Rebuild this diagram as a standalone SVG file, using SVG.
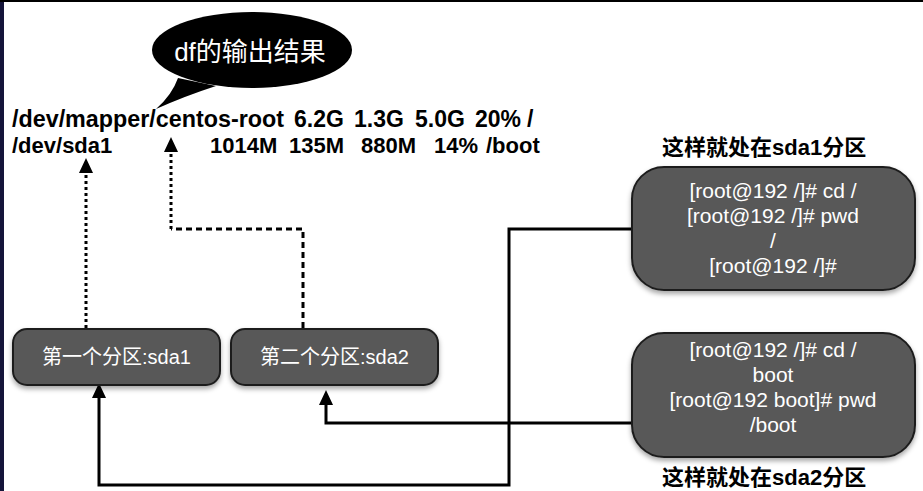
<svg xmlns="http://www.w3.org/2000/svg" width="923" height="491" viewBox="0 0 923 491">
<style>
text{font-family:"Liberation Sans","Noto Sans CJK SC",sans-serif}
.df{font-size:22px;font-weight:bold;fill:#000}
.df1{font-size:23px;font-weight:bold;fill:#000}
.cap{font-size:22px;font-weight:bold;fill:#000}
.lbl{font-size:20px;fill:#fff;text-anchor:middle}
.cmd{font-size:21px;fill:#fff;text-anchor:middle}
.box{fill:#595959;stroke:#1e1e1e;stroke-width:2}
.solid{fill:none;stroke:#000;stroke-width:3}
.dot{fill:none;stroke:#000;stroke-width:3;stroke-dasharray:3 3}
.dash{fill:none;stroke:#000;stroke-width:3;stroke-dasharray:6 4}
.head{fill:#000}
</style>
<defs>
<filter id="sh" x="-10%" y="-10%" width="120%" height="130%">
<feDropShadow dx="0" dy="3" stdDeviation="2.5" flood-color="#000" flood-opacity="0.35"/>
</filter>
</defs>
<rect x="0" y="0" width="923" height="491" fill="#fff"/>
<rect x="0" y="0" width="4" height="491" fill="#15153a"/>
<rect x="0" y="0" width="923" height="2" fill="#000"/>

<g id="bubble">
<ellipse cx="252" cy="50" rx="100" ry="38" fill="#000"/>
<path d="M178 78 Q172 95 156 109 Q185 96 216 86 Z" fill="#000"/>
<text x="250" y="61" font-size="26" fill="#fff" text-anchor="middle">df的输出结果</text>
</g>

<g id="df-output">
<text class="df1" y="127"><tspan x="12" textLength="272" lengthAdjust="spacingAndGlyphs">/dev/mapper/centos-root</tspan><tspan x="294">6.2G</tspan><tspan x="354">1.3G</tspan><tspan x="415">5.0G</tspan><tspan x="475">20%</tspan><tspan x="527">/</tspan></text>
<text class="df" y="153"><tspan x="12">/dev/sda1</tspan><tspan x="210">1014M</tspan><tspan x="289">135M</tspan><tspan x="361">880M</tspan><tspan x="434">14%</tspan><tspan x="486">/boot</tspan></text>
</g>

<g id="connectors">
<path class="dot" d="M86 328 V173"/>
<path class="dash" d="M303 328 V229 H171"/>
<path class="dot" d="M171 229 V152"/>
<path class="solid" d="M632 229 H509 V485 H99 V398"/>
<path class="solid" d="M632 423 H326 V404"/>
<path class="head" d="M79 173 L86 158 L93 173 Z"/>
<path class="head" d="M164 152 L171 137 L178 152 Z"/>
<path class="head" d="M92 398 L99 383 L106 398 Z"/>
<path class="head" d="M319 405 L326 390 L333 405 Z"/>
</g>

<g id="sda1">
<rect class="box" x="13" y="329" width="207" height="56" rx="14" filter="url(#sh)"/>
<text class="lbl" x="116.5" y="364">第一个分区:sda1</text>
</g>
<g id="sda2">
<rect class="box" x="231" y="329" width="207" height="56" rx="14" filter="url(#sh)"/>
<text class="lbl" x="334.5" y="364">第二个分区:sda2</text>
</g>

<g id="cmd1">
<rect class="box" x="632" y="167" width="283" height="123" rx="32" filter="url(#sh)"/>
<text class="cmd" x="773" y="198">[root@192 /]# cd /</text>
<text class="cmd" x="773" y="223">[root@192 /]# pwd</text>
<text class="cmd" x="773" y="248">/</text>
<text class="cmd" x="773" y="273">[root@192 /]#</text>
</g>
<g id="cmd2">
<rect class="box" x="632" y="333" width="283" height="124" rx="32" filter="url(#sh)"/>
<text class="cmd" x="773" y="357">[root@192 /]# cd /</text>
<text class="cmd" x="773" y="382">boot</text>
<text class="cmd" x="773" y="407">[root@192 boot]# pwd</text>
<text class="cmd" x="773" y="432">/boot</text>
</g>

<g id="captions">
<text class="cap" x="662" y="155">这样就处在sda1分区</text>
<text class="cap" x="662" y="485">这样就处在sda2分区</text>
</g>
</svg>
